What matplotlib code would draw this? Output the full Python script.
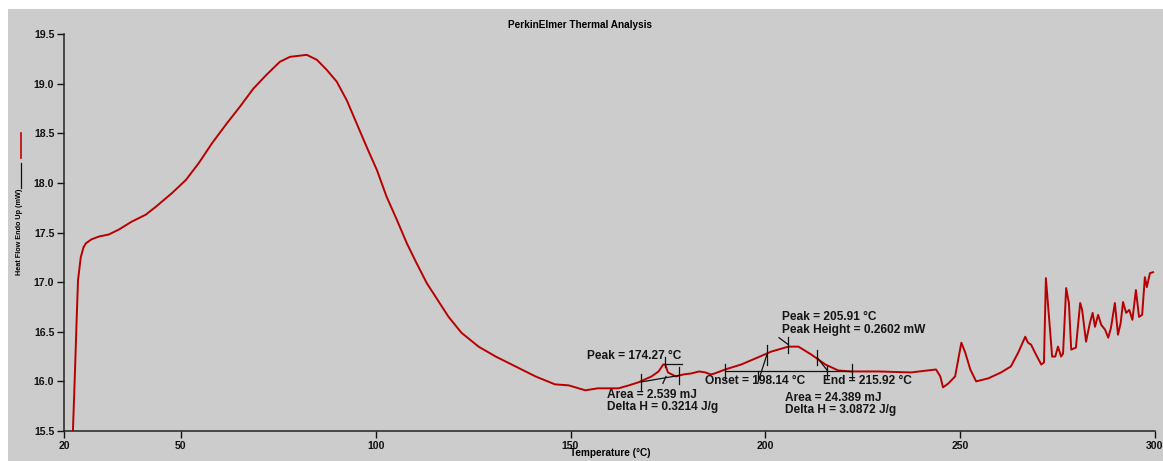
import numpy as np
import matplotlib.pyplot as plt
from matplotlib.patches import Rectangle

plt.rcParams['font.family'] = ['Liberation Sans', 'DejaVu Sans']

# DSC curve
temp = [22.0, 22.3, 22.8, 23.3, 23.6, 24.3, 25.0, 25.6, 27.0, 29.0, 31.5, 34.1, 37.4, 41.0,
        43.6, 47.8, 51.3, 54.6, 58.0, 61.8, 65.2, 68.6, 72.0, 75.4, 78.0, 82.3, 84.9, 87.4,
        90.0, 92.6, 95.1, 97.7, 100.3, 102.8, 105.4, 108.0, 110.5, 113.1, 118.7, 122.0,
        126.4, 130.8,
        135.9, 141.0, 146.0, 149.5, 153.8, 157.0, 160.0, 162.3, 165.0, 167.4, 170.8, 172.6,
        173.8, 174.3, 175.0, 177.0, 179.0, 181.0, 183.0, 184.6, 186.0, 187.0, 189.7, 193.8,
        198.0, 201.5, 205.9, 208.5, 211.8, 215.4, 218.7, 222.0, 229.0, 237.4, 243.8, 244.9,
        245.6, 247.0, 248.7, 250.3, 251.3, 252.6, 254.1, 257.2, 260.5, 263.0, 264.9, 266.7,
        267.4, 268.2, 269.2, 270.8, 271.5, 272.0, 272.8, 273.6, 274.4, 275.1, 275.9, 276.4,
        277.2, 277.9, 278.5, 279.7, 280.8, 281.3, 282.3, 283.3, 284.0, 284.6, 285.4, 286.2,
        287.2, 288.0, 288.7, 289.7, 290.5, 291.2, 291.8, 292.6, 293.4, 294.2, 295.1, 295.9,
        296.7, 297.4, 297.9, 298.7, 299.5]
heat_flow = [15.2, 15.51, 16.08, 16.69, 17.02, 17.25, 17.35, 17.39, 17.43, 17.46, 17.48, 17.53,
             17.61, 17.68, 17.76, 17.90, 18.03, 18.20, 18.40, 18.60, 18.77, 18.95, 19.09, 19.22,
             19.27, 19.29, 19.24, 19.14, 19.02, 18.83, 18.60, 18.36, 18.13, 17.86, 17.63, 17.39,
             17.19, 16.99, 16.65, 16.49, 16.35, 16.25,
             16.15, 16.05, 15.97, 15.96, 15.91, 15.93, 15.93, 15.93,
             15.96, 15.99, 16.05, 16.10, 16.17, 16.17, 16.09, 16.05, 16.07, 16.08, 16.10, 16.09,
             16.07, 16.08, 16.12, 16.17, 16.24, 16.30, 16.35, 16.35, 16.27, 16.17, 16.11, 16.10,
             16.10, 16.09, 16.12, 16.05, 15.94, 15.98, 16.05, 16.39, 16.29, 16.12, 16.00, 16.03,
             16.09, 16.15, 16.29, 16.45, 16.39, 16.37, 16.29, 16.17, 16.19, 17.04, 16.65, 16.25,
             16.25, 16.35, 16.25, 16.28, 16.94, 16.79, 16.32, 16.34, 16.79, 16.72, 16.40, 16.59,
             16.69, 16.55, 16.67, 16.57, 16.52, 16.44, 16.54, 16.79, 16.47, 16.59, 16.80, 16.69,
             16.72, 16.62, 16.92, 16.65, 16.67, 17.05, 16.95, 17.09, 17.10]

x_ticks = [20, 50, 100, 150, 200, 250, 300]
y_ticks = [15.5, 16.0, 16.5, 17.0, 17.5, 18.0, 18.5, 19.0, 19.5]

# peak analysis results
peak1 = 174.27
base1 = [(168.1, 15.994), (177.9, 16.06)]
onset2, peak2, end2 = 198.14, 205.91, 215.92
base2_y = 16.10
base2 = [189.7, 222.3]

fig = plt.figure(figsize=(11.63, 4.61), dpi=100, facecolor='white')
fig.patches.append(Rectangle((8 / 1163, 0), 1, 1 - 9 / 461, transform=fig.transFigure,
                             facecolor='#cccccc', edgecolor='none', zorder=-10))
ax = fig.add_axes([64 / 1163, 1 - 431 / 461, 1091 / 1163, 397 / 461])
ax.set_facecolor('none')

ax.plot(temp, heat_flow, color='#b80000', lw=1.4, zorder=3)

k = dict(color='#111111', lw=0.9, zorder=4)
# small peak marks
ax.plot([base1[0][0], base1[1][0]], [base1[0][1], base1[1][1]], **k)
for bx, by in base1:
    ax.plot([bx, bx], [by - 0.085, by + 0.085], **k)
ax.plot([peak1 + 0.1, peak1 + 0.1], [16.14, 16.25], **k)
ax.plot([peak1 + 0.1, 178.7], [16.18, 16.18], **k)
ax.plot([173.7, 174.5], [15.98, 16.05], **k)

# large peak marks
ax.plot(base2, [base2_y, base2_y], **k)
for bx in base2:
    ax.plot([bx, bx], [16.02, 16.18], **k)
ax.plot([onset2, 200.4], [15.995, 16.27], **k)
ax.plot([onset2, onset2], [16.02, 16.10], **k)
ax.plot([200.4, 200.4], [16.17, 16.37], **k)
ax.plot([peak2 - 0.1, peak2 - 0.1], [16.29, 16.45], **k)
ax.plot([203.5, peak2], [16.44, 16.37], **k)
ax.plot([213.3, 216.1], [16.24, 16.10], **k)
ax.plot([213.3, 213.3], [16.17, 16.32], **k)
ax.plot([end2, end2], [16.02, 16.15], **k)

fs = 8.6
tk = dict(fontsize=fs, va='center', fontweight='bold', color='#151515')
ax.text(154.2, 16.256, 'Peak = 174.27 °C', **tk)
ax.text(159.4, 15.86, 'Area = 2.539 mJ', **tk)
ax.text(159.4, 15.74, 'Delta H = 0.3214 J/g', **tk)
ax.text(184.5, 16.004, 'Onset = 198.14 °C', **tk)
ax.text(214.8, 16.004, 'End = 215.92 °C', **tk)
ax.text(204.3, 16.65, 'Peak = 205.91 °C', **tk)
ax.text(204.3, 16.52, 'Peak Height = 0.2602 mW', **tk)
ax.text(205.1, 15.83, 'Area = 24.389 mJ', **tk)
ax.text(205.1, 15.71, 'Delta H = 3.0872 J/g', **tk)

ax.set_xlim(20, 300)
ax.set_ylim(15.5, 19.5)
ax.set_xticks(x_ticks)
ax.set_yticks(y_ticks)
ax.set_yticklabels([f'{v:.1f}' for v in y_ticks])
ax.tick_params(direction='out', length=5, width=1, colors='#111111', labelsize=7.6, pad=2)
ax.tick_params(axis='x', pad=2)
for lab in ax.get_xticklabels() + ax.get_yticklabels():
    lab.set_fontweight('bold')
for s in ['top', 'right']:
    ax.spines[s].set_visible(False)
for s in ['left', 'bottom']:
    ax.spines[s].set_color('#222222')
    ax.spines[s].set_linewidth(1.1)

fig.text(580 / 1163, 1 - 25 / 461, 'PerkinElmer Thermal Analysis', fontsize=7.2,
         fontweight='bold', ha='center', va='center')
fig.text(610 / 1163, 1 - 453 / 461, 'Temperature (°C)', fontsize=7.2, fontweight='bold',
         ha='center', va='center')
fig.text(20 / 1163, 1 - 232 / 461, 'Heat Flow Endo Up (mW)', fontsize=5.2, rotation=90,
         fontweight='bold', ha='center', va='center')
fig.add_artist(plt.Line2D([20.5 / 1163] * 2, [1 - 188 / 461, 1 - 163 / 461], color='#111111',
                          lw=0.9, transform=fig.transFigure))
fig.add_artist(plt.Line2D([21.5 / 1163] * 2, [1 - 158 / 461, 1 - 133 / 461], color='#c00000',
                          lw=1.2, transform=fig.transFigure))

fig.savefig('out.png', dpi=100, facecolor='white')
